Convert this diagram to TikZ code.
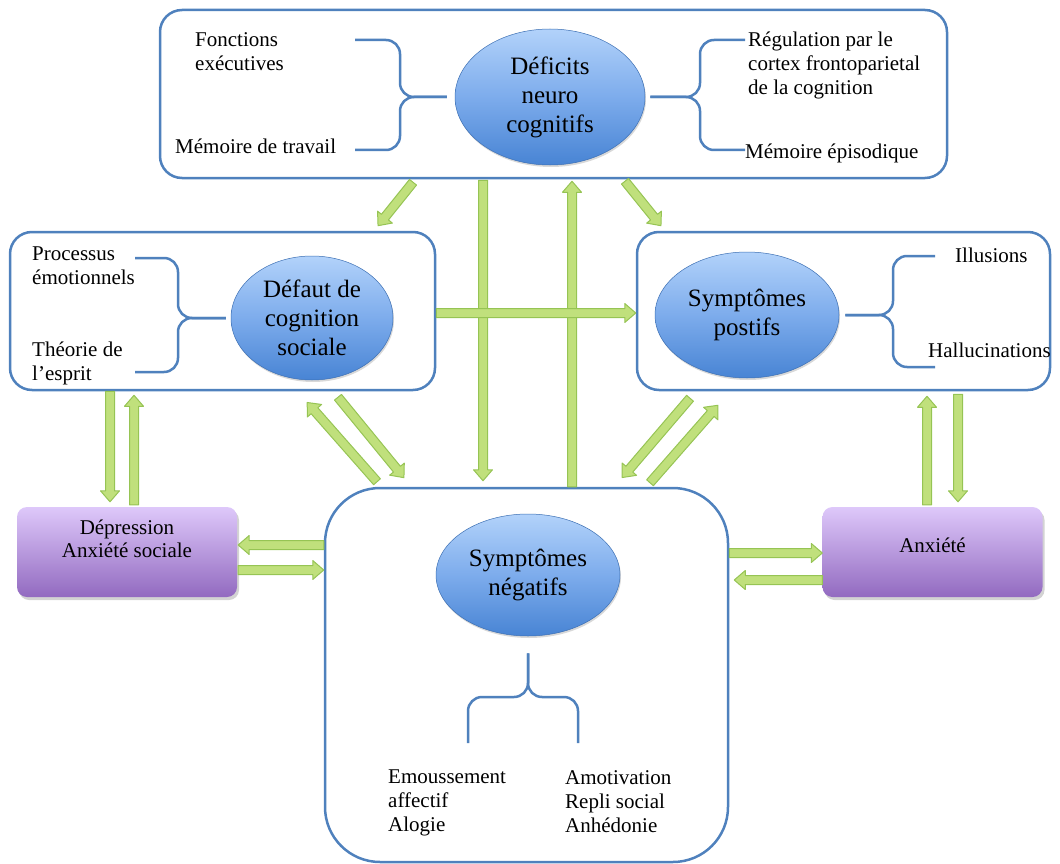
\documentclass[tikz,border=0pt]{standalone}
\usepackage{fontspec}
\setmainfont{Liberation Serif}
\usetikzlibrary{shapes, shadows, calc, positioning}

\definecolor{frameblue}{RGB}{79,129,189}
\definecolor{ballTop}{RGB}{178,210,250}
\definecolor{ballMid}{RGB}{125,172,236}
\definecolor{ballBot}{RGB}{72,132,212}
\definecolor{lilacTop}{RGB}{222,200,250}
\definecolor{lilacBot}{RGB}{146,106,192}
\definecolor{leafFill}{RGB}{192,224,124}
\definecolor{leafLine}{RGB}{150,196,84}

% block arrow from #1 to #2
\newcommand{\leafarrow}[2]{%
\path[leaf] let \p1=#1, \p2=#2, \n1={atan2(\y2-\y1,\x2-\x1)}, \n2={veclen(\x2-\x1,\y2-\y1)} in
 {[shift={(\p1)}, rotate=\n1] (0pt,-4.5pt) -- ({\n2-11pt},-4.5pt) -- ({\n2-11pt},-9.5pt) -- ({\n2},0pt) -- ({\n2-11pt},9.5pt) -- ({\n2-11pt},4.5pt) -- (0pt,4.5pt) -- cycle};}

\begin{document}
\begin{tikzpicture}[x=1pt,y=-1pt,
  bigbox/.style={draw=frameblue, line width=2.5pt, rounded corners=22pt, fill=white, inner sep=0pt},
  lilac/.style={draw=none, rounded corners=10pt, top color=lilacTop, bottom color=lilacBot, inner sep=0pt,
    drop shadow={shadow xshift=2pt, shadow yshift=-3pt, opacity=0.35}, minimum width=220pt, minimum height=90pt},
  ball/.style={ellipse, draw=ballBot!85!black, line width=0.5pt, top color=ballTop, bottom color=ballBot, middle color=ballMid,
    drop shadow={shadow xshift=1pt, shadow yshift=-2pt, opacity=0.3}, align=center, inner sep=0pt,
    font=\fontsize{25}{29}\selectfont},
  lbl/.style={anchor=north west, align=left, inner sep=0pt, font=\fontsize{21}{24}\selectfont},
  boxtext/.style={align=center, inner sep=0pt, font=\fontsize{21}{23}\selectfont},
  brace/.style={draw=frameblue, line width=2.5pt, rounded corners=14pt},
  leaf/.style={fill=leafFill, draw=leafLine, line width=1pt, line join=round}]
\useasboundingbox (0,0) rectangle (1060,864);

% frames
\node[bigbox, minimum width=787pt, minimum height=168pt] (neurobox) at (553.5,94) {};
\node[bigbox, minimum width=425pt, minimum height=158pt] (socialbox) at (222.5,311) {};
\node[bigbox, minimum width=413pt, minimum height=158pt] (posbox) at (843.5,311) {};
\node[bigbox, rounded corners=55pt, minimum width=403pt, minimum height=374pt] (negbox) at (526.5,675) {};

% purple boxes
\node[lilac] (depbox) at (127,552) {};
\node[boxtext] (deptext) at (127,539) {Dépression\\Anxiété sociale};
\node[lilac] (anxbox) at (932.5,552) {};
\node[boxtext] (anxtext) at (932.5,545) {Anxiété};

% blue balls
\node[ball, minimum width=190pt, minimum height=136pt] (neuro) at (550,97) {Déficits\\neuro\\cognitifs};
\node[ball, minimum width=162pt, minimum height=124pt] (social) at (312,318) {Défaut de\\cognition\\sociale};
\node[ball, minimum width=184pt, minimum height=126pt] (positive) at (747,315) {Symptômes\\postifs};
\node[ball, minimum width=184pt, minimum height=122pt] (negative) at (528,575) {Symptômes\\négatifs};

% Text Node
\node[lbl] (fonctions) at (195,32) {Fonctions\\exécutives};
\node[lbl] (travail) at (175,139) {Mémoire de travail};
\node[lbl] (regulation) at (748,32) {Régulation par le\\cortex frontoparietal\\de la cognition};
\node[lbl] (episodique) at (745,144) {Mémoire épisodique};
% Text Node
\node[lbl] (processus) at (32,247) {Processus\\émotionnels};
\node[lbl] (theorie) at (32,342) {Théorie de\\l’esprit};
\node[lbl] (illusions) at (955,248) {Illusions};
\node[lbl] (hallu) at (928,343) {Hallucinations};
% Text Node
\node[lbl] (emouss) at (388,770) {Emoussement\\affectif\\Alogie};
\node[lbl] (amotiv) at (565,770) {Amotivation\\Repli social\\Anhédonie};

% braces
\draw[brace] (355,40) -- (400,40) -- (400,97) -- ([xshift=-8pt]neuro.west);
\draw[brace] (355,150) -- (400,150) -- (400,97) -- ([xshift=-8pt]neuro.west);
\draw[brace] (745,40) -- (700,40) -- (700,97) -- ([xshift=5pt]neuro.east);
\draw[brace] (745,150) -- (700,150) -- (700,97) -- ([xshift=5pt]neuro.east);
\draw[brace] (135,258) -- (178,258) -- (178,318) -- ([xshift=-5pt]social.west);
\draw[brace] (135,372) -- (178,372) -- (178,318) -- ([xshift=-5pt]social.west);
\draw[brace] (935,256) -- (893,256) -- (893,315) -- ([xshift=6pt]positive.east);
\draw[brace] (935,367) -- (893,367) -- (893,315) -- ([xshift=6pt]positive.east);
\draw[brace] (468,743) -- (468,697) -- (528,697) -- ([yshift=-17pt]negative.south);
\draw[brace] (578,743) -- (578,697) -- (528,697) -- ([yshift=-17pt]negative.south);

% green arrows
\leafarrow{([xshift=-140.5pt,yshift=-3pt]neurobox.south)}{([xshift=155.5pt,yshift=5pt]socialbox.north)}
\leafarrow{([xshift=-70.5pt,yshift=-1pt]neurobox.south)}{([xshift=-43.5pt,yshift=6pt]negbox.north)}
\leafarrow{([xshift=45.5pt]negbox.north)}{([xshift=18.5pt,yshift=-2pt]neurobox.south)}
\leafarrow{([xshift=71.5pt,yshift=-2pt]neurobox.south)}{([xshift=-182.5pt,yshift=5pt]posbox.north)}
\leafarrow{([yshift=-2pt]socialbox.east)}{([yshift=-2pt]posbox.west)}
\leafarrow{([xshift=-112.5pt]socialbox.south)}{([xshift=-17pt,yshift=5pt]depbox.north)}
\leafarrow{([xshift=7pt,yshift=2pt]depbox.north)}{([xshift=-88.5pt,yshift=-4pt]socialbox.south)}
\leafarrow{([xshift=-149.5pt,yshift=5pt]negbox.north)}{([xshift=84.5pt,yshift=-11pt]socialbox.south)}
\leafarrow{([xshift=115.5pt,yshift=-6pt]socialbox.south)}{([xshift=-122.5pt,yshift=9pt]negbox.north)}
\leafarrow{([xshift=-153.5pt,yshift=-7pt]posbox.south)}{([xshift=95.5pt,yshift=9pt]negbox.north)}
\leafarrow{([xshift=123.5pt,yshift=4pt]negbox.north)}{([xshift=-125.5pt,yshift=-14pt]posbox.south)}
\leafarrow{([xshift=-5.5pt,yshift=2pt]anxbox.north)}{([xshift=83.5pt,yshift=-5pt]posbox.south)}
\leafarrow{([xshift=114.5pt,yshift=-3pt]posbox.south)}{([xshift=25.5pt,yshift=5pt]anxbox.north)}
\leafarrow{([yshift=130pt]negbox.west)}{([xshift=1pt,yshift=7pt]depbox.east)}
\leafarrow{([xshift=1pt,yshift=-18pt]depbox.east)}{([yshift=105pt]negbox.west)}
\leafarrow{([yshift=122pt]negbox.east)}{([yshift=-1pt]anxbox.west)}
\leafarrow{([yshift=-28pt]anxbox.west)}{([xshift=5pt,yshift=95pt]negbox.east)}
\end{tikzpicture}
\end{document}
